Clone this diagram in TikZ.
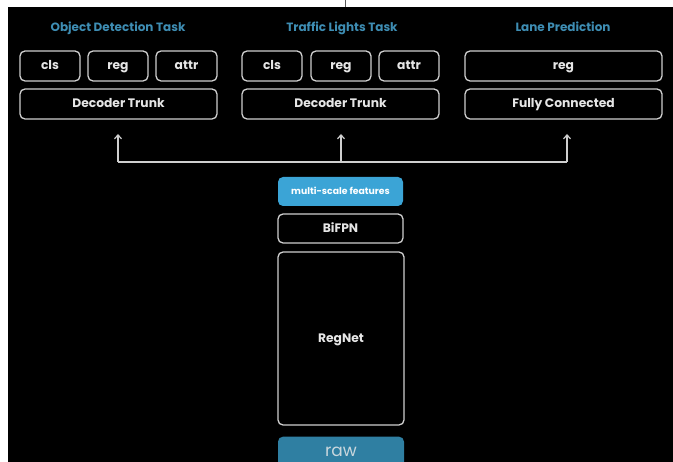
\documentclass[tikz,border=0pt]{standalone}
\usepackage{fontspec}
\setmainfont{Poppins}
\usetikzlibrary{arrows.meta}
\definecolor{ttl}{HTML}{3E8DB3}
\definecolor{edge}{HTML}{CFCFCF}
\definecolor{txt}{HTML}{E6E6E6}
\definecolor{msfill}{HTML}{3BA4D6}
\definecolor{rawfill}{HTML}{2F7FA2}
\definecolor{rawtxt}{HTML}{C9D7DD}
\tikzset{
  box/.style={draw=edge, line width=1.3pt, rounded corners=5pt, inner sep=0pt,
    minimum height=30pt, text=txt, font=\fontsize{12.3}{14}\selectfont\bfseries, fill=black,
    text height=9pt, text depth=1pt},
  title/.style={text=ttl, font=\fontsize{12}{14}\selectfont\bfseries, inner sep=0pt,
    text height=9pt, text depth=2pt},
  conn/.style={draw=edge, line width=1.2pt, -{Straight Barb[length=4pt,width=7pt]}},
  line/.style={draw=edge, line width=1.2pt}
}
\begin{document}
\begin{tikzpicture}[x=1pt,y=-1pt]
\useasboundingbox (0,0) rectangle (673,462);
\fill[white] (0,0) rectangle (673,462);
\fill[black] (8,7) rectangle (673,462);
\draw[black!65, line width=1pt] (345,0) -- (345,7);
% titles
\node[title] (odt) at (118,28.5) {Object Detection Task};
\node[title] (tlt) at (342,28.5) {Traffic Lights Task};
\node[title] (lpt) at (563,28.5) {Lane Prediction};
% object detection
\node[box, minimum width=60pt] (odcls) at (50,66) {cls};
\node[box, minimum width=60pt] (odreg) at (118,66) {reg};
\node[box, minimum width=61pt] (odattr) at (186.5,66) {attr};
\node[box, minimum width=197pt] (odtrunk) at (118.5,104) {Decoder Trunk};
% traffic lights
\node[box, minimum width=60pt] (tlcls) at (272,66) {cls};
\node[box, minimum width=60pt] (tlreg) at (341,66) {reg};
\node[box, minimum width=60pt] (tlattr) at (409,66) {attr};
\node[box, minimum width=197pt] (tltrunk) at (340.5,104) {Decoder Trunk};
% lane
\node[box, minimum width=197pt] (lpreg) at (563.5,66) {reg};
\node[box, minimum width=197pt] (lpfc) at (563.5,104) {Fully Connected};
% backbone
\node[box, draw=none, fill=msfill, minimum width=125pt, minimum height=29pt,
  font=\fontsize{9.3}{11}\selectfont\bfseries, text=white, text height=6.5pt, text depth=1pt] (ms) at (340.5,191.5) {multi-scale features};
\node[box, minimum width=125pt, minimum height=29pt] (bifpn) at (340.5,228.5) {BiFPN};
\node[box, minimum width=126pt, minimum height=173pt] (regnet) at (341,338.5) {RegNet};
\node[box, draw=none, fill=rawfill, minimum width=126pt, minimum height=40pt,
  anchor=north] (raw) at (341,436) {};
\node[text=rawtxt, font=\fontsize{17}{19}\selectfont, inner sep=0pt] (rawlbl) at (341,452) {raw};
% connectors
\coordinate (jl) at (118,162);
\coordinate (jm) at (341,162);
\coordinate (jr) at (567,162);
\coordinate (tl) at (118,134);
\coordinate (tm) at (341,134);
\coordinate (tr) at (567,134);
\draw[line] (jl) -- (jr);
\draw[conn] (jl) -- (tl);
\draw[conn] (jm) -- (tm);
\draw[conn] (jr) -- (tr);
\end{tikzpicture}
\end{document}
